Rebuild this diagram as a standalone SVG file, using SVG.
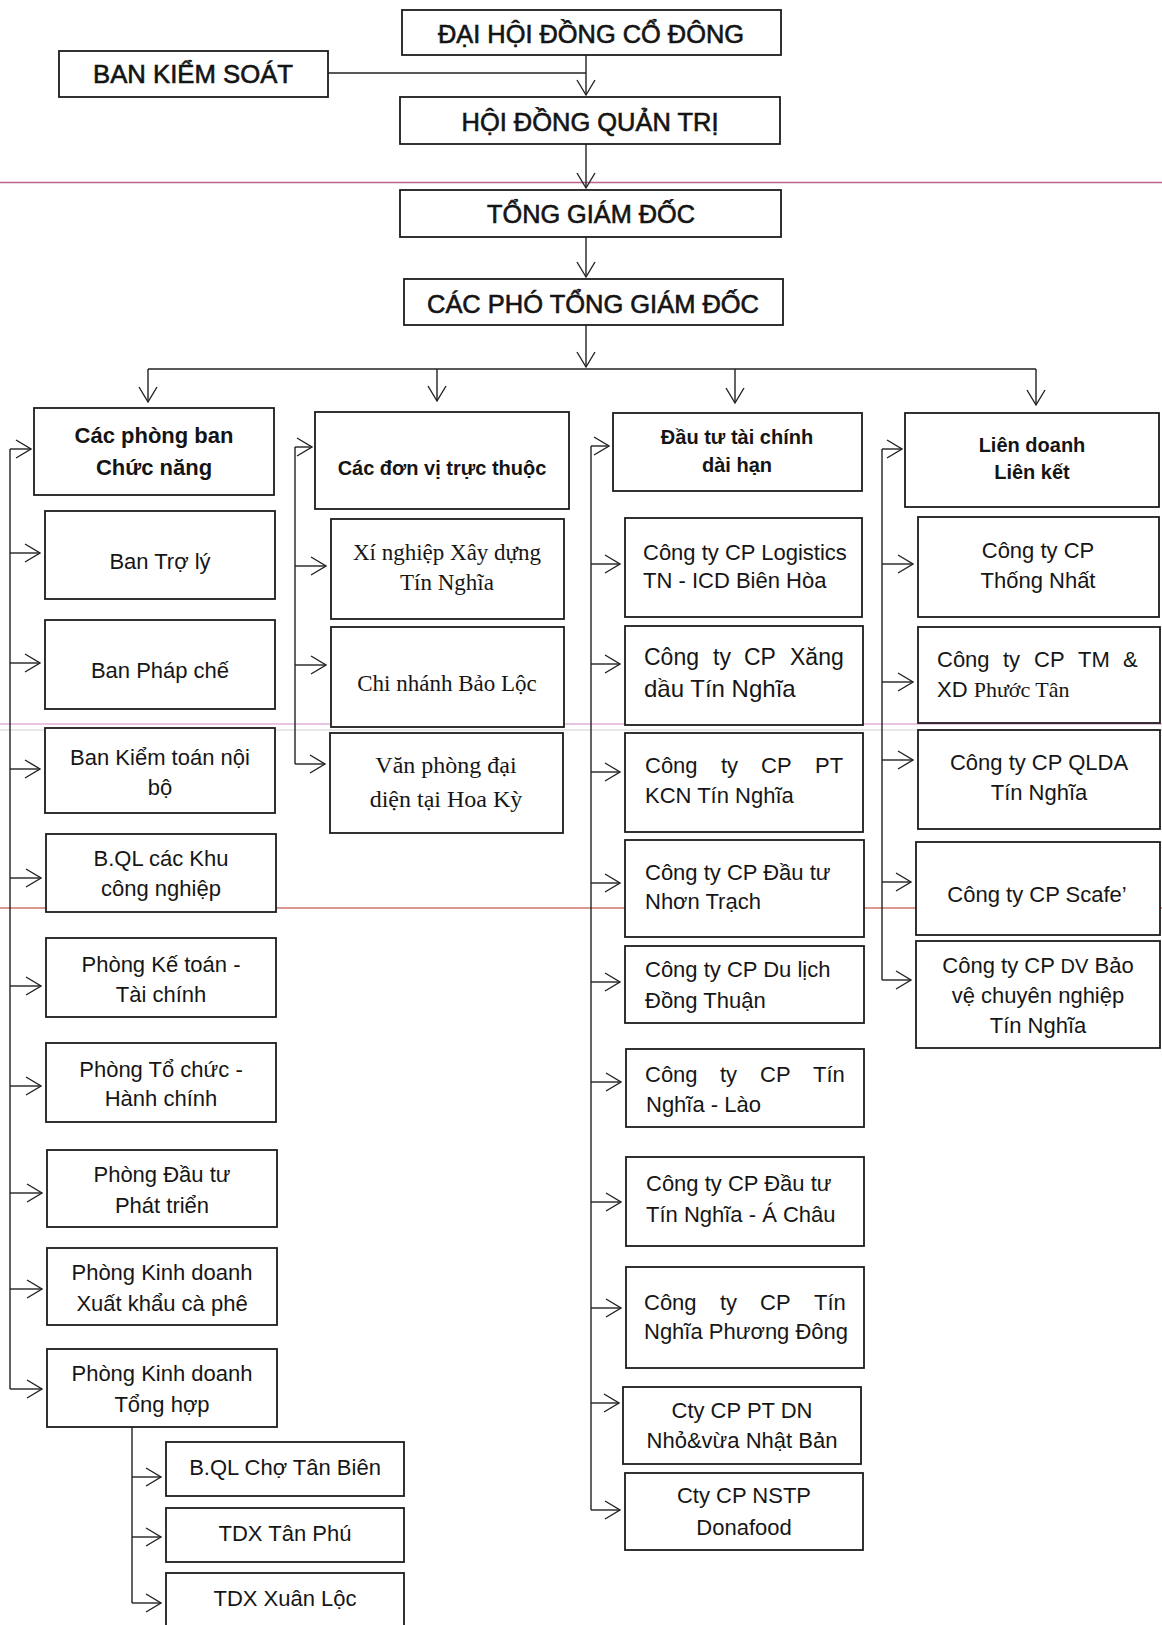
<svg xmlns="http://www.w3.org/2000/svg" width="1162" height="1625" viewBox="0 0 1162 1625">
<defs>
<style>
.bx{fill:#fff;stroke:#1c1c1c;stroke-width:1.8}
.ln{fill:none;stroke:#222;stroke-width:1.4}
.ar{fill:none;stroke:#222;stroke-width:1.4;marker-end:url(#ah)}
.h{font-family:"Liberation Sans",Arial,sans-serif;font-size:25px;font-weight:normal;fill:#141414;stroke:#141414;stroke-width:0.6;text-anchor:middle}
.b{font-family:"Liberation Sans",Arial,sans-serif;font-size:20px;font-weight:bold;fill:#141414;text-anchor:middle}
.t{font-family:"Liberation Sans",Arial,sans-serif;font-size:22px;fill:#161616;text-anchor:middle}
.l{font-family:"Liberation Sans",Arial,sans-serif;font-size:22px;fill:#161616}
.s{font-family:"Liberation Serif","Times New Roman",serif;font-size:23px;fill:#161616;text-anchor:middle}
.sr{font-family:"Liberation Serif","Times New Roman",serif}
</style>
<marker id="ah" markerWidth="18" markerHeight="20" refX="16" refY="10" orient="auto" markerUnits="userSpaceOnUse">
<path d="M1,1 L16,10 L1,19" fill="none" stroke="#222" stroke-width="1.4"/>
</marker>
</defs>
<rect width="1162" height="1625" fill="#fff"/>

<g id="scan-lines" opacity="0.85">
<line x1="0" y1="182.5" x2="1162" y2="182.5" stroke="#b0497e" stroke-width="1.3"/>
<line x1="0" y1="724" x2="1162" y2="724" stroke="#dba3d2" stroke-width="1.5"/>
<line x1="0" y1="730" x2="1162" y2="730" stroke="#c8c8c8" stroke-width="1"/>
<line x1="0" y1="908" x2="1162" y2="908" stroke="#c4604e" stroke-width="1.6"/>
</g>

<g id="connectors">
<path class="ar" d="M586,55 V95"/>
<path class="ln" d="M328,73 H586"/>
<path class="ar" d="M586,144 V188"/>
<path class="ar" d="M586,237 V277"/>
<path class="ar" d="M586,325 V367"/>
<path class="ln" d="M148,369 H1036"/>
<path class="ar" d="M148,369 V402"/>
<path class="ar" d="M437,369 V401"/>
<path class="ar" d="M735,369 V403"/>
<path class="ar" d="M1036,369 V405"/>

<path class="ln" d="M10,449 V1389"/>
<path class="ar" d="M10,449 H31"/>
<path class="ar" d="M10,553 H40"/>
<path class="ar" d="M10,663 H40"/>
<path class="ar" d="M10,769 H40"/>
<path class="ar" d="M10,878 H41"/>
<path class="ar" d="M10,986 H41"/>
<path class="ar" d="M10,1086 H41"/>
<path class="ar" d="M10,1193 H42"/>
<path class="ar" d="M10,1289 H42"/>
<path class="ar" d="M10,1389 H42"/>

<path class="ln" d="M132,1427 V1603"/>
<path class="ar" d="M132,1477 H161"/>
<path class="ar" d="M132,1537 H161"/>
<path class="ar" d="M132,1603 H161"/>

<path class="ln" d="M295,447 V764"/>
<path class="ar" d="M295,447 H312"/>
<path class="ar" d="M295,566 H326"/>
<path class="ar" d="M295,665 H326"/>
<path class="ar" d="M295,764 H325"/>

<path class="ln" d="M591,446 V1510"/>
<path class="ar" d="M591,446 H609"/>
<path class="ar" d="M591,564 H620"/>
<path class="ar" d="M591,664 H620"/>
<path class="ar" d="M591,772 H620"/>
<path class="ar" d="M591,883 H620"/>
<path class="ar" d="M591,982 H620"/>
<path class="ar" d="M591,1082 H621"/>
<path class="ar" d="M591,1202 H621"/>
<path class="ar" d="M591,1308 H621"/>
<path class="ar" d="M591,1403 H619"/>
<path class="ar" d="M591,1510 H620"/>

<path class="ln" d="M882,449 V980"/>
<path class="ar" d="M882,449 H902"/>
<path class="ar" d="M882,564 H913"/>
<path class="ar" d="M882,682 H913"/>
<path class="ar" d="M882,760 H913"/>
<path class="ar" d="M882,882 H911"/>
<path class="ar" d="M882,980 H911"/>
</g>

<g id="n-dhdcd"><rect class="bx" x="402" y="10" width="379" height="45"/><text class="h" x="591" y="43" textLength="306" lengthAdjust="spacingAndGlyphs">ĐẠI HỘI ĐỒNG CỔ ĐÔNG</text></g>
<g id="n-bks"><rect class="bx" x="59" y="51" width="269" height="46"/><text class="h" x="193" y="83" textLength="200" lengthAdjust="spacingAndGlyphs">BAN KIỂM SOÁT</text></g>
<g id="n-hdqt"><rect class="bx" x="400" y="97" width="380" height="47"/><text class="h" x="590" y="131" textLength="257" lengthAdjust="spacingAndGlyphs">HỘI ĐỒNG QUẢN TRỊ</text></g>
<g id="n-tgd"><rect class="bx" x="400" y="190" width="381" height="47"/><text class="h" x="591" y="223" textLength="208" lengthAdjust="spacingAndGlyphs">TỔNG GIÁM ĐỐC</text></g>
<g id="n-ptgd"><rect class="bx" x="404" y="279" width="379" height="46"/><text class="h" x="593" y="313" textLength="332" lengthAdjust="spacingAndGlyphs">CÁC PHÓ TỔNG GIÁM ĐỐC</text></g>

<g id="n-cpb"><rect class="bx" x="34" y="408" width="240" height="87"/><text class="b" x="154" y="443" style="font-size:22px">Các phòng ban</text><text class="b" x="154" y="475" style="font-size:22px">Chức năng</text></g>
<g id="n-troly"><rect class="bx" x="45" y="511" width="230" height="88"/><text class="t" x="160" y="569">Ban Trợ lý</text></g>
<g id="n-phapche"><rect class="bx" x="45" y="620" width="230" height="89"/><text class="t" x="160" y="678">Ban Pháp chế</text></g>
<g id="n-kiemtoan"><rect class="bx" x="45" y="728" width="230" height="85"/><text class="t" x="160" y="765">Ban Kiểm toán nội</text><text class="t" x="160" y="795">bộ</text></g>
<g id="n-bqlkcn"><rect class="bx" x="46" y="834" width="230" height="78"/><text class="t" x="161" y="866">B.QL các Khu</text><text class="t" x="161" y="896">công nghiệp</text></g>
<g id="n-ketoan"><rect class="bx" x="46" y="938" width="230" height="79"/><text class="t" x="161" y="972">Phòng Kế toán -</text><text class="t" x="161" y="1002">Tài chính</text></g>
<g id="n-tochuc"><rect class="bx" x="46" y="1043" width="230" height="79"/><text class="t" x="161" y="1077">Phòng Tổ chức -</text><text class="t" x="161" y="1106">Hành chính</text></g>
<g id="n-dautupt"><rect class="bx" x="47" y="1150" width="230" height="77"/><text class="t" x="162" y="1182">Phòng Đầu tư</text><text class="t" x="162" y="1213">Phát triển</text></g>
<g id="n-kdxk"><rect class="bx" x="47" y="1248" width="230" height="77"/><text class="t" x="162" y="1280">Phòng Kinh doanh</text><text class="t" x="162" y="1311">Xuất khẩu cà phê</text></g>
<g id="n-kdth"><rect class="bx" x="47" y="1349" width="230" height="78"/><text class="t" x="162" y="1381">Phòng Kinh doanh</text><text class="t" x="162" y="1412">Tổng hợp</text></g>
<g id="n-cho"><rect class="bx" x="166" y="1442" width="238" height="54"/><text class="t" x="285" y="1475">B.QL Chợ Tân Biên</text></g>
<g id="n-tanphu"><rect class="bx" x="166" y="1508" width="238" height="54"/><text class="t" x="285" y="1541">TDX Tân Phú</text></g>
<g id="n-xuanloc"><rect class="bx" x="166" y="1573" width="238" height="56"/><text class="t" x="285" y="1606">TDX Xuân Lộc</text></g>

<g id="n-donvi"><rect class="bx" x="315" y="412" width="254" height="97"/><text class="b" x="442" y="475">Các đơn vị trực thuộc</text></g>
<g id="n-xinghiep"><rect class="bx" x="331" y="519" width="233" height="100"/><text class="s" x="447" y="560">Xí nghiệp Xây dựng</text><text class="s" x="447" y="590">Tín Nghĩa</text></g>
<g id="n-baoloc"><rect class="bx" x="331" y="627" width="233" height="100"/><text class="s" x="447" y="691">Chi nhánh Bảo Lộc</text></g>
<g id="n-hoaky"><rect class="bx" x="330" y="733" width="233" height="100"/><text class="s" x="446" y="773" style="font-size:24px">Văn phòng đại</text><text class="s" x="446" y="807" style="font-size:24px">diện tại Hoa Kỳ</text></g>

<g id="n-dautu"><rect class="bx" x="613" y="413" width="249" height="78"/><text class="b" x="737" y="444">Đầu tư tài chính</text><text class="b" x="737" y="472">dài hạn</text></g>
<g id="n-logistics"><rect class="bx" x="625" y="518" width="237" height="99"/><text class="l" x="643" y="560">Công ty CP Logistics</text><text class="l" x="643" y="588">TN - ICD Biên Hòa</text></g>
<g id="n-xangdau"><rect class="bx" x="625" y="626" width="238" height="99"/><text class="l" y="665" style="font-size:23px"><tspan x="644">Công</tspan><tspan x="713">ty</tspan><tspan x="744">CP</tspan><tspan x="790">Xăng</tspan></text><text class="l" x="644" y="697" style="font-size:24px">dầu Tín Nghĩa</text></g>
<g id="n-kcn"><rect class="bx" x="625" y="733" width="238" height="99"/><text class="l" y="773"><tspan x="645">Công</tspan><tspan x="721">ty</tspan><tspan x="761">CP</tspan><tspan x="815">PT</tspan></text><text class="l" x="645" y="803">KCN Tín Nghĩa</text></g>
<g id="n-nhontrach"><rect class="bx" x="625" y="840" width="239" height="97"/><text class="l" x="645" y="880">Công ty CP Đầu tư</text><text class="l" x="645" y="909">Nhơn Trạch</text></g>
<g id="n-dulich"><rect class="bx" x="625" y="946" width="239" height="77"/><text class="l" x="645" y="977">Công ty CP Du lịch</text><text class="l" x="645" y="1008">Đồng Thuận</text></g>
<g id="n-lao"><rect class="bx" x="626" y="1049" width="238" height="78"/><text class="l" y="1082"><tspan x="645">Công</tspan><tspan x="720">ty</tspan><tspan x="760">CP</tspan><tspan x="813">Tín</tspan></text><text class="l" x="646" y="1112">Nghĩa - Lào</text></g>
<g id="n-achau"><rect class="bx" x="626" y="1157" width="238" height="89"/><text class="l" x="646" y="1191">Công ty CP Đầu tư</text><text class="l" x="646" y="1222">Tín Nghĩa - Á Châu</text></g>
<g id="n-phuongdong"><rect class="bx" x="626" y="1267" width="238" height="101"/><text class="l" y="1310"><tspan x="644">Công</tspan><tspan x="720">ty</tspan><tspan x="760">CP</tspan><tspan x="814">Tín</tspan></text><text class="l" x="644" y="1339">Nghĩa Phương Đông</text></g>
<g id="n-ptdn"><rect class="bx" x="623" y="1387" width="238" height="77"/><text class="t" x="742" y="1418">Cty CP PT DN</text><text class="t" x="742" y="1448">Nhỏ&amp;vừa Nhật Bản</text></g>
<g id="n-nstp"><rect class="bx" x="625" y="1473" width="238" height="77"/><text class="t" x="744" y="1503">Cty CP NSTP</text><text class="t" x="744" y="1535">Donafood</text></g>

<g id="n-liendoanh"><rect class="bx" x="905" y="413" width="254" height="94"/><text class="b" x="1032" y="452">Liên doanh</text><text class="b" x="1032" y="479">Liên kết</text></g>
<g id="n-thongnhat"><rect class="bx" x="918" y="517" width="241" height="100"/><text class="t" x="1038" y="558">Công ty CP</text><text class="t" x="1038" y="588">Thống Nhất</text></g>
<g id="n-phuoctan"><rect class="bx" x="918" y="627" width="242" height="96"/><text class="l" y="667"><tspan x="937">Công</tspan><tspan x="1003">ty</tspan><tspan x="1034">CP</tspan><tspan x="1078">TM</tspan><tspan x="1123">&amp;</tspan></text><text class="l" x="937" y="697">XD <tspan class="sr">Phước Tân</tspan></text></g>
<g id="n-qlda"><rect class="bx" x="918" y="730" width="242" height="99"/><text class="t" x="1039" y="770">Công ty CP QLDA</text><text class="t" x="1039" y="800">Tín Nghĩa</text></g>
<g id="n-scafe"><rect class="bx" x="916" y="842" width="244" height="93"/><text class="t" x="1037" y="902">Công ty CP Scafe’</text></g>
<g id="n-baove"><rect class="bx" x="916" y="941" width="244" height="107"/><text class="t" x="1038" y="973">Công ty CP <tspan style="font-size:20px">DV</tspan> Bảo</text><text class="t" x="1038" y="1003">vệ chuyên nghiệp</text><text class="t" x="1038" y="1033">Tín Nghĩa</text></g>
</svg>
